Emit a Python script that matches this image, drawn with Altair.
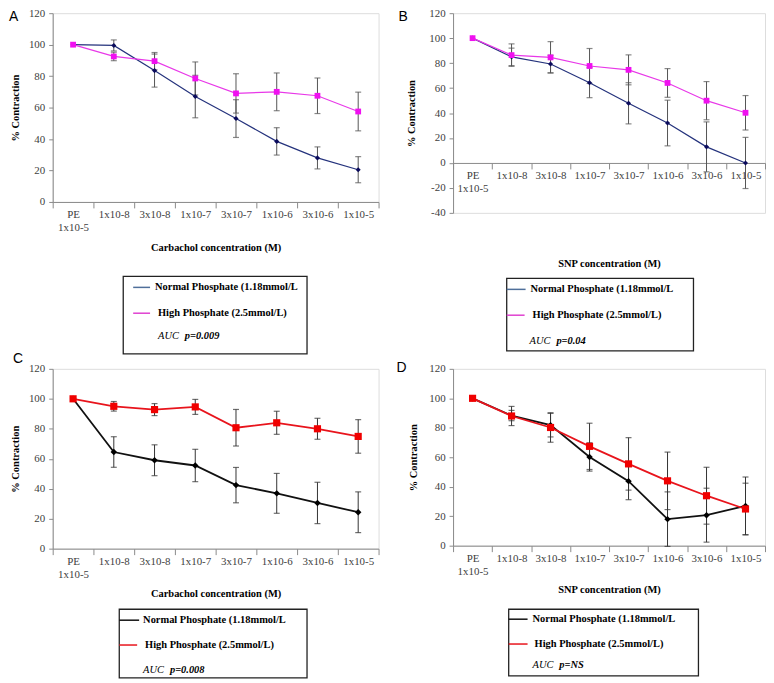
import altair as alt
import pandas as pd

categories = ["PE|1x10-5", "1x10-8", "3x10-8", "1x10-7", "3x10-7", "1x10-6", "3x10-6", "1x10-5"]
y_ticks_pos = [0, 20, 40, 60, 80, 100, 120]
y_ticks_b = [-40, -20, 0, 20, 40, 60, 80, 100, 120]

legend_normal = "Normal Phosphate (1.18mmol/L"
legend_high = "High Phosphate (2.5mmol/L)"
x_title_carb = "Carbachol concentration (M)"
x_title_snp = "SNP concentration (M)"
y_title = "% Contraction"
auc_labels = ["p=0.009", "p=0.04", "p=0.008", "p=NS"]
letters = ["A", "B", "C", "D"]

a_normal = [100, 99.5, 83.5, 67, 53, 38.5, 28, 20.5]
a_normal_err = [0, 3.5, 10.5, 13.5, 12, 8.7, 7, 8.3]
a_high = [100, 92.5, 89.5, 78.5, 69, 70, 67.5, 57.5]
a_high_err = [0, 2.7, 5.5, 10.5, 12.5, 12, 11.3, 12.3]

b_normal = [100, 85, 79.3, 64.3, 47.8, 32, 12.9, 0]
b_normal_err = [0, 7, 7, 12, 16.5, 18.3, 20, 20.5]
b_high = [100, 86.4, 84.6, 77.7, 74.6, 64.1, 49.9, 40.2]
b_high_err = [0, 9, 12.6, 14, 12, 11.5, 15.3, 13.8]

c_normal = [100, 64.5, 59, 55.5, 42.4, 36.9, 30.5, 24.3]
c_normal_err = [0, 10.2, 10.3, 10.8, 11.8, 13.3, 13.8, 13.6]
c_high = [100, 95, 92.8, 94.6, 80.7, 84, 80, 74.9]
c_high_err = [0, 3.2, 4, 5, 12.2, 7.7, 7, 11.2]

d_normal = [100, 88.3, 81.8, 60.2, 43.8, 18, 20.7, 27]
d_normal_err = [0, 3.5, 8, 9.6, 12.6, 18.5, 18.3, 19.6]
d_high = [100, 88, 80.2, 67.4, 55.5, 44, 33.9, 24.9]
d_high_err = [0, 6.5, 10, 15.7, 17.8, 19.5, 19.3, 17.5]

SERIF = "Liberation Serif"


def make_df(normal, nerr, high, herr):
    rows = []
    for g, vals, errs in (("Normal", normal, nerr), ("High", high, herr)):
        for i, (c, v, e) in enumerate(zip(categories, vals, errs)):
            rows.append({"cat": c, "idx": i, "grp": g, "val": v,
                         "lo": v - e, "hi": v + e, "err": e})
    return pd.DataFrame(rows)


def panel(df, s):
    xaxis = alt.Axis(
        title=s["xtitle"], tickBand="extent", labelExpr="split(datum.label, '|')",
        labelAngle=0, labelFont=SERIF, labelFontSize=11, labelColor="#404040",
        labelLineHeight=13, labelPadding=1, tickSize=6, tickColor="#8a8a8a",
        domainColor="#8a8a8a", titleFont=SERIF, titleFontWeight="bold",
        titleFontSize=10.5, titleColor="black", titlePadding=s["xtp"],
        offset=s["xoff"],
    )
    X = alt.X("cat:N", sort=categories,
              scale=alt.Scale(paddingInner=0, paddingOuter=0), axis=xaxis)
    yscale = alt.Scale(domain=s["ydom"], nice=False, zero=False)
    yaxis = alt.Axis(
        values=s["yvals"], grid=False, title=y_title, tickSize=4, labelPadding=4,
        labelFont=SERIF, labelFontSize=11, labelColor="#404040",
        labelExpr="datum.value + ''", tickColor="#8a8a8a", domainColor="#8a8a8a",
        titleFont=SERIF, titleFontWeight="bold", titleFontSize=10.5,
        titleColor="black", titlePadding=s["ytp"],
    )
    Y = alt.Y("val:Q", scale=yscale, axis=yaxis)
    Ylo = alt.Y("lo:Q", scale=yscale, axis=yaxis)
    Yhi = alt.Y("hi:Q", scale=yscale, axis=yaxis)

    base = alt.Chart(df)
    errs = base.transform_filter("datum.err > 0")
    layers = [
        errs.mark_rule(color=s["ecol"], strokeWidth=1).encode(x=X, y=Ylo, y2="hi:Q"),
        errs.mark_tick(color=s["ecol"], size=6, thickness=1.2).encode(x=X, y=Ylo),
        errs.mark_tick(color=s["ecol"], size=6, thickness=1.2).encode(x=X, y=Yhi),
    ]
    groups = (("Normal", s["ncol"], s["nmark"], "diamond", s["nsize"]),
              ("High", s["hcol"], s["hmark"], "square", s["hsize"]))
    for grp, col, mcol, shape, size in groups:
        sub = base.transform_filter(f"datum.grp == '{grp}'")
        layers.append(sub.mark_line(color=col, strokeWidth=s["lw"]).encode(
            x=X, y=Y, order=alt.Order("idx:Q")))
    for grp, col, mcol, shape, size in groups:
        sub = base.transform_filter(f"datum.grp == '{grp}'")
        layers.append(sub.mark_point(filled=True, opacity=1, color=mcol, shape=shape,
                                     size=size).encode(x=X, y=Y))

    one = alt.Chart(pd.DataFrame({"k": [0]}))
    g = s["leg"]
    bx0, by0, bx1, by1 = g["box"]
    layers.append(one.mark_rect(fillOpacity=0, stroke="#222", strokeWidth=1.3).encode(
        x=alt.value(bx0), x2=alt.value(bx1), y=alt.value(by0), y2=alt.value(by1)))
    for key, col in (("nline", s["nleg"]), ("hline", s["hleg"])):
        lx0, lx1, ly = g[key]
        layers.append(one.mark_rule(color=col, strokeWidth=1.5).encode(
            x=alt.value(lx0), x2=alt.value(lx1), y=alt.value(ly)))
    for key, txt in (("ntext", legend_normal), ("htext", legend_high)):
        tx, ty = g[key]
        layers.append(one.mark_text(align="left", baseline="middle", font=SERIF,
                                    fontSize=10.5, fontWeight="bold", color="black").encode(
            x=alt.value(tx), y=alt.value(ty), text=alt.value(txt)))
    ax, ay = g["auc"]
    layers.append(one.mark_text(align="left", baseline="middle", font=SERIF,
                                fontSize=10.5, fontStyle="italic", color="black").encode(
        x=alt.value(ax), y=alt.value(ay), text=alt.value("AUC")))
    layers.append(one.mark_text(align="left", baseline="middle", font=SERIF,
                                fontSize=10.5, fontStyle="italic", fontWeight="bold",
                                color="black").encode(
        x=alt.value(ax + 27), y=alt.value(ay), text=alt.value(s["auc"])))
    lx, ly = s["letterpos"]
    layers.append(one.mark_text(align="left", baseline="top", font="Liberation Sans",
                                fontSize=14, color="black").encode(
        x=alt.value(lx), y=alt.value(ly), text=alt.value(s["letter"])))

    return alt.layer(*layers).properties(width=s["w"], height=s["h"])


blue_style = dict(ncol="#24327c", nmark="#0b0b5c", hcol="#e838e8", hmark="#f010f0",
                  nleg="#4f6f9a", hleg="#e040d0", ecol="#555555", lw=1.2,
                  nsize=26, hsize=34)
red_style = dict(ncol="#111111", nmark="#000000", hcol="#e8141c", hmark="#f00000",
                 nleg="#111111", hleg="#e8141c", ecol="#333333", lw=1.8,
                 nsize=42, hsize=52)

specs = [
    dict(blue_style, xtitle=x_title_carb, ydom=[0, 120], yvals=y_ticks_pos, w=328, h=190,
         xoff=0, xtp=10, ytp=8, auc=auc_labels[0], letter=letters[0], letterpos=(-44, -3),
         leg=dict(box=(71, 265, 256, 343), nline=(81, 98, 276), ntext=(103, 276),
                  hline=(81, 98, 302), htext=(106, 302), auc=(106, 325))),
    dict(blue_style, xtitle=x_title_snp, ydom=[-40, 120], yvals=y_ticks_b, w=314, h=201,
         xoff=-201 * 40 / 160, xtp=65, ytp=12, auc=auc_labels[1], letter=letters[1],
         letterpos=(-55, -3),
         leg=dict(box=(54, 267, 242, 340), nline=(54, 73, 278), ntext=(78, 278),
                  hline=(54, 72, 304), htext=(80, 304), auc=(77, 330))),
    dict(red_style, xtitle=x_title_carb, ydom=[0, 120], yvals=y_ticks_pos, w=328, h=181,
         xoff=0, xtp=9, ytp=8, auc=auc_labels[2], letter=letters[2], letterpos=(-40, -17),
         leg=dict(box=(67, 242, 256, 311), nline=(67, 87, 253), ntext=(91, 253),
                  hline=(67, 85, 278), htext=(93, 278), auc=(91, 303))),
    dict(red_style, xtitle=x_title_snp, ydom=[0, 120], yvals=y_ticks_pos, w=314, h=178,
         xoff=0, xtp=8, ytp=10, auc=auc_labels[3], letter=letters[3], letterpos=(-57, -8),
         leg=dict(box=(56, 242, 247, 309), nline=(56, 75, 252), ntext=(80, 252),
                  hline=(56, 75, 277), htext=(82, 277), auc=(80, 298))),
]

data = [
    make_df(a_normal, a_normal_err, a_high, a_high_err),
    make_df(b_normal, b_normal_err, b_high, b_high_err),
    make_df(c_normal, c_normal_err, c_high, c_high_err),
    make_df(d_normal, d_normal_err, d_high, d_high_err),
]

panels = [panel(df, s) for df, s in zip(data, specs)]

chart = alt.concat(*panels, columns=2, spacing={"row": 157, "column": 75},
                   bounds="flush").properties(
    padding={"left": 0, "top": -4, "right": 0, "bottom": 0}
).configure_view(strokeWidth=0).configure_axis(
    labelFont=SERIF, titleFont=SERIF
).configure(background="white")

chart.save("out.html", embed_options={"renderer": "svg", "actions": False})
